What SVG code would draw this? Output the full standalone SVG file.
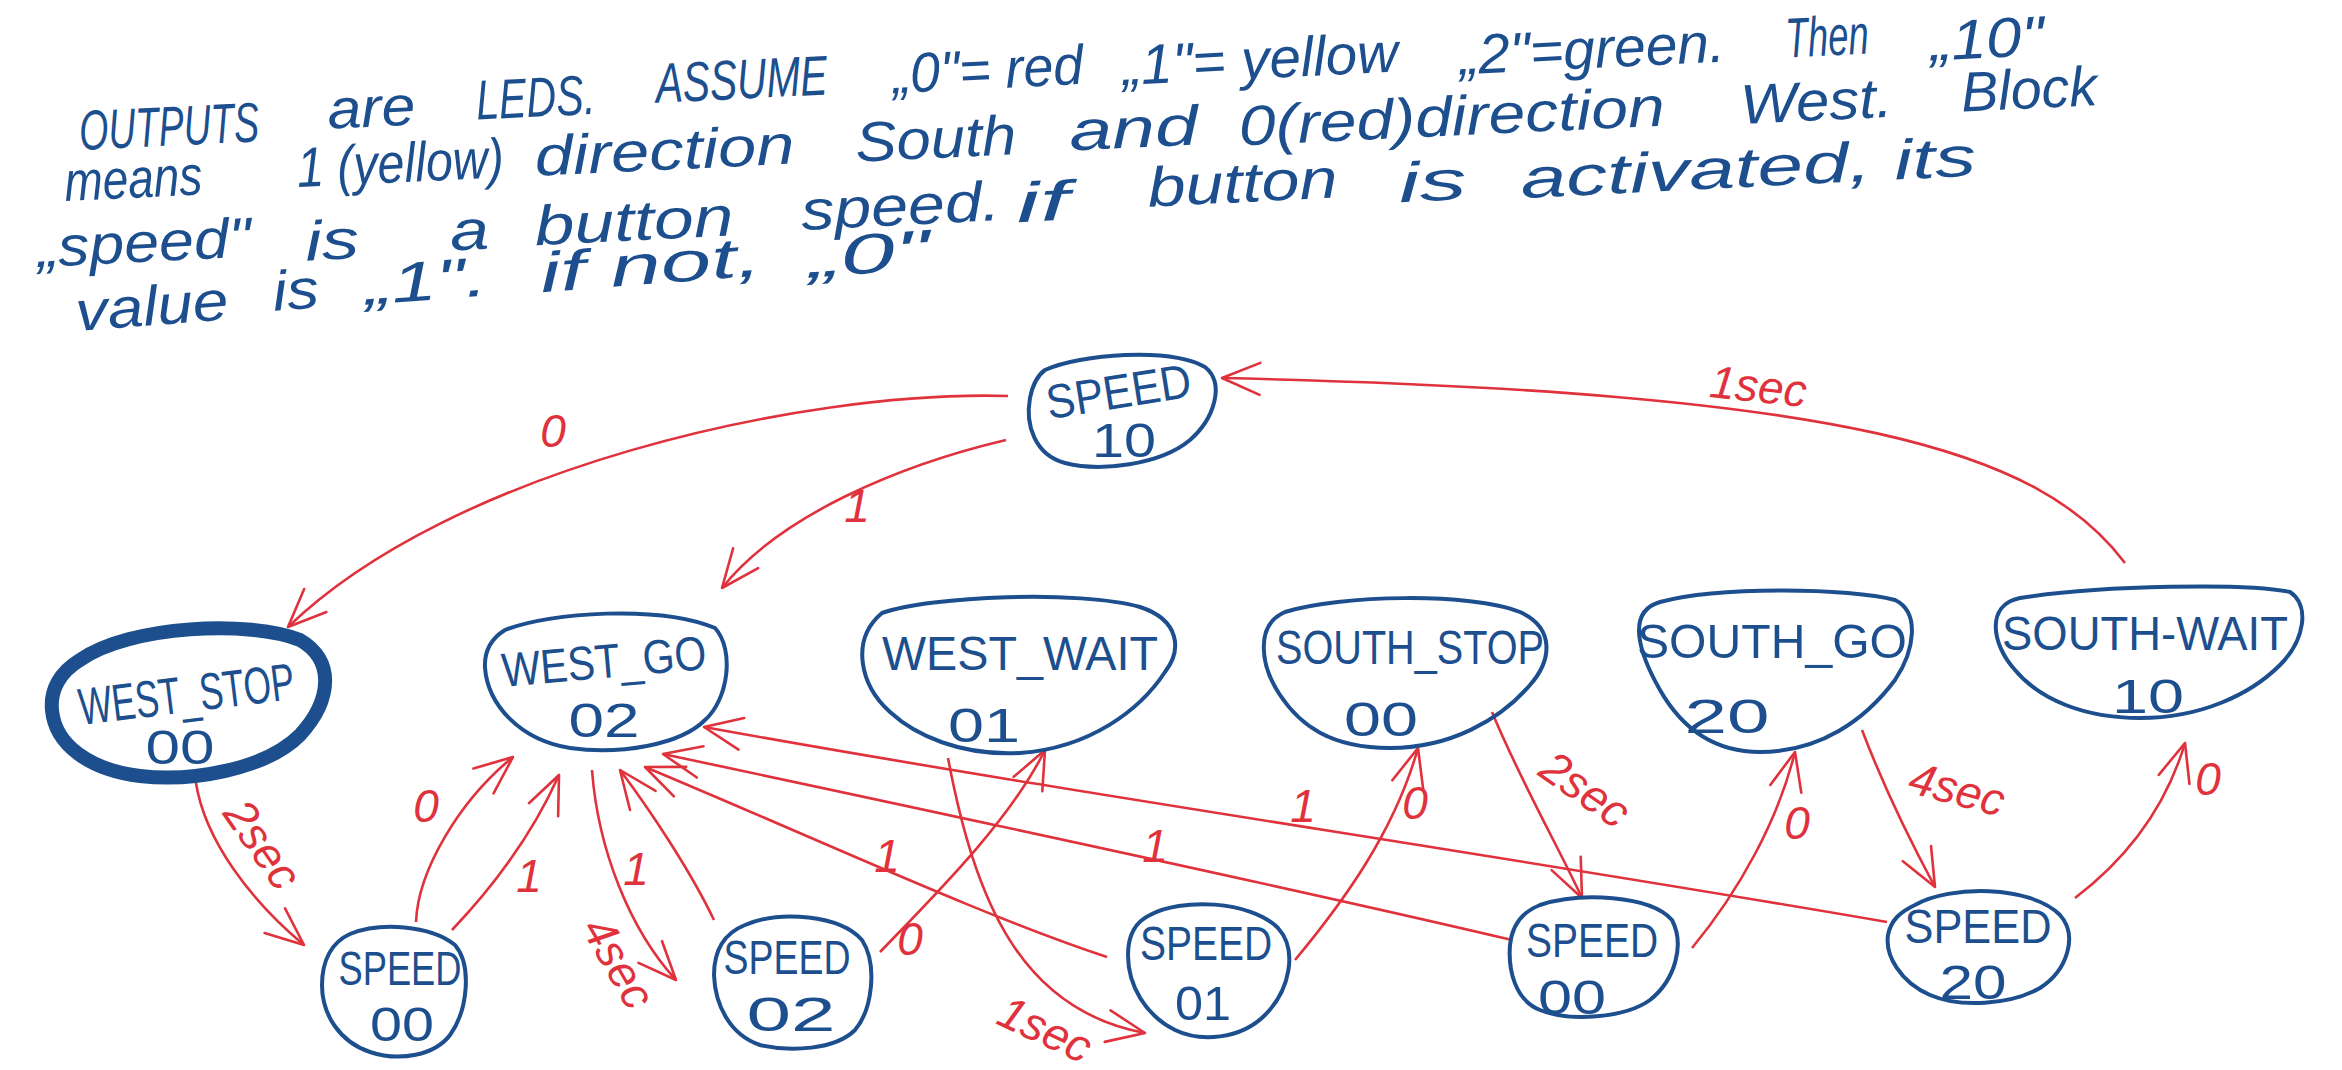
<svg xmlns="http://www.w3.org/2000/svg" width="2342" height="1070" viewBox="0 0 2342 1070">
<style>
.node path{fill:none;stroke:#1d4f8e;stroke-width:4;stroke-linejoin:round}
.node path.thick{stroke-width:14}
.nt{font-family:"Liberation Sans",Arial,sans-serif;fill:#1d4f8e;font-size:48px;text-anchor:middle}
.edges path{fill:none;stroke:#e0323c;stroke-width:2.6;marker-end:url(#arr)}
.el{font-family:"Liberation Sans",Arial,sans-serif;fill:#e0323c;font-size:46px;text-anchor:middle;font-style:italic}
.para{font-family:"Liberation Sans",Arial,sans-serif;fill:#1d4f8e;font-size:56px;font-style:italic}
</style>
<defs>
<marker id="arr" viewBox="0 0 44 40" refX="42" refY="20" markerWidth="44" markerHeight="40" markerUnits="userSpaceOnUse" orient="auto">
<path d="M4,4 L42,20 L4,36" fill="none" stroke="#e0323c" stroke-width="2.6" stroke-linecap="round" stroke-linejoin="round"/>
</marker>
</defs>
<rect width="2342" height="1070" fill="#ffffff"/>

<g id="notes">
<text class="para" transform="rotate(-2.8 80 150)"><tspan x="80" y="150" textLength="180" lengthAdjust="spacingAndGlyphs">OUTPUTS</tspan><tspan x="329" y="141" textLength="88" lengthAdjust="spacingAndGlyphs">are</tspan><tspan x="478" y="139" textLength="119" lengthAdjust="spacingAndGlyphs">LEDS.</tspan><tspan x="658" y="131" textLength="172" lengthAdjust="spacingAndGlyphs">ASSUME</tspan><tspan x="895" y="133" textLength="191" lengthAdjust="spacingAndGlyphs">„0"= red</tspan><tspan x="1125" y="136" textLength="276" lengthAdjust="spacingAndGlyphs">„1"= yellow</tspan><tspan x="1462" y="142" textLength="266" lengthAdjust="spacingAndGlyphs">„2"=green.</tspan><tspan x="1789" y="141" textLength="83" lengthAdjust="spacingAndGlyphs">Then</tspan><tspan x="1933" y="151" textLength="114" lengthAdjust="spacingAndGlyphs">„10"</tspan></text>
<text class="para" transform="rotate(-2.7 65 198)"><tspan x="65" y="201" textLength="138" lengthAdjust="spacingAndGlyphs">means</tspan><tspan x="298" y="198" textLength="207" lengthAdjust="spacingAndGlyphs">1 (yellow)</tspan><tspan x="536" y="198" textLength="260" lengthAdjust="spacingAndGlyphs">direction</tspan><tspan x="857" y="199" textLength="161" lengthAdjust="spacingAndGlyphs">South</tspan><tspan x="1071" y="198" textLength="129" lengthAdjust="spacingAndGlyphs">and</tspan><tspan x="1241" y="201" textLength="426" lengthAdjust="spacingAndGlyphs">0(red)direction</tspan><tspan x="1743" y="203" textLength="152" lengthAdjust="spacingAndGlyphs">West.</tspan><tspan x="1964" y="201" textLength="136" lengthAdjust="spacingAndGlyphs">Block</tspan></text>
<text class="para" transform="rotate(-2.85 38 267)"><tspan x="38" y="267" textLength="214" lengthAdjust="spacingAndGlyphs">„speed"</tspan><tspan x="306" y="274" textLength="54" lengthAdjust="spacingAndGlyphs">is</tspan><tspan x="451" y="271" textLength="39" lengthAdjust="spacingAndGlyphs">a</tspan><tspan x="536" y="270" textLength="199" lengthAdjust="spacingAndGlyphs">button</tspan><tspan x="803" y="268" textLength="199" lengthAdjust="spacingAndGlyphs">speed.</tspan><tspan x="1018" y="271" textLength="53" lengthAdjust="spacingAndGlyphs">if</tspan><tspan x="1150" y="262" textLength="190" lengthAdjust="spacingAndGlyphs">button</tspan><tspan x="1401" y="270" textLength="68" lengthAdjust="spacingAndGlyphs">is</tspan><tspan x="1523" y="272" textLength="456" lengthAdjust="spacingAndGlyphs">activated, its</tspan></text>
<text class="para" transform="rotate(-4.4 77 331)"><tspan x="77" y="331" textLength="153" lengthAdjust="spacingAndGlyphs">value</tspan><tspan x="275" y="326" textLength="46" lengthAdjust="spacingAndGlyphs">is</tspan><tspan x="367" y="327" textLength="123" lengthAdjust="spacingAndGlyphs">„1".</tspan><tspan x="543" y="328" textLength="222" lengthAdjust="spacingAndGlyphs">if not,</tspan><tspan x="811" y="334" textLength="122" lengthAdjust="spacingAndGlyphs">„0"</tspan></text>
</g>

<g id="connectors" class="edges">
<path id="e-speed10-weststop" d="M1008,396 C800,390 450,470 288,627"/>
<path id="e-speed10-westgo" d="M1006,440 C900,465 780,515 722,588"/>
<path id="e-southwait-speed10" d="M2125,563 C2040,450 1850,392 1222,378"/>
<path id="e-weststop-speed00" d="M196,783 C205,840 250,900 304,945"/>
<path id="e-speed00-westgo-0" d="M416,922 C418,870 460,800 513,757"/>
<path id="e-speed00-westgo-1" d="M452,930 C490,890 530,840 559,775"/>
<path id="e-westgo-speed02" d="M592,770 C598,850 630,930 676,980"/>
<path id="e-speed02-westgo" d="M714,920 C690,870 650,810 620,770"/>
<path id="e-speed02-westwait" d="M880,952 C940,890 1010,820 1045,750"/>
<path id="e-westwait-speed01" d="M948,758 C975,900 1020,1010 1145,1033"/>
<path id="e-speed01-westgo" d="M1107,957 C980,915 820,840 645,767"/>
<path id="e-speed00b-westgo" d="M1512,940 C1300,890 950,815 663,754"/>
<path id="e-speed20-westgo" d="M1887,922 C1500,855 1050,790 704,727"/>
<path id="e-speed01-southstop" d="M1295,960 C1345,900 1395,830 1418,748"/>
<path id="e-southstop-speed00b" d="M1492,712 C1520,780 1560,850 1582,898"/>
<path id="e-speed00b-southgo" d="M1692,948 C1740,890 1778,820 1795,752"/>
<path id="e-southgo-speed20" d="M1862,730 C1885,790 1915,850 1935,887"/>
<path id="e-speed20-southwait" d="M2075,898 C2125,860 2165,810 2185,743"/>
</g>

<g id="edge-labels">
<text class="el" x="553" y="447">0</text>
<text class="el" x="857" y="522">1</text>
<text class="el" x="1757" y="402" transform="rotate(6 1757 400)">1sec</text>
<text class="el" x="262" y="860" transform="rotate(55 262 845)">2sec</text>
<text class="el" x="426" y="822">0</text>
<text class="el" x="529" y="892">1</text>
<text class="el" x="636" y="885">1</text>
<text class="el" x="618" y="978" transform="rotate(60 618 963)">4sec</text>
<text class="el" x="910" y="955">0</text>
<text class="el" x="887" y="872">1</text>
<text class="el" x="1045" y="1045" transform="rotate(25 1045 1030)">1sec</text>
<text class="el" x="1155" y="862">1</text>
<text class="el" x="1303" y="822">1</text>
<text class="el" x="1415" y="819">0</text>
<text class="el" x="1585" y="805" transform="rotate(35 1585 790)">2sec</text>
<text class="el" x="1797" y="839">0</text>
<text class="el" x="1957" y="805" transform="rotate(15 1957 790)">4sec</text>
<text class="el" x="2208" y="795">0</text>
</g>

<g id="n-speed10" class="node">
<path d="M1045,370 C1080,354 1170,347 1205,367 C1225,383 1215,418 1190,440 C1160,465 1100,472 1065,463 C1035,455 1025,425 1030,398 C1033,383 1038,375 1045,370 Z"/>
<text class="nt" x="1119" y="408" textLength="146" lengthAdjust="spacingAndGlyphs" transform="rotate(-9 1119 394)">SPEED</text>
<text class="nt" x="1124" y="457" textLength="64" lengthAdjust="spacingAndGlyphs">10</text>
</g>
<g id="n-weststop" class="node">
<path class="thick" d="M80,660 C130,625 250,620 300,640 C335,660 332,700 300,735 C265,770 190,782 140,776 C90,770 55,745 52,710 C50,690 60,672 80,660 Z"/>
<text class="nt" x="187" y="712" textLength="217" lengthAdjust="spacingAndGlyphs" transform="rotate(-7 187 698)" style="font-size:52px">WEST_STOP</text>
<text class="nt" x="180" y="764" textLength="69" lengthAdjust="spacingAndGlyphs">00</text>
</g>
<g id="n-westgo" class="node">
<path d="M505,630 C550,612 660,605 715,628 C735,650 728,700 705,720 C680,745 620,755 570,748 C520,740 488,705 485,668 C484,650 492,638 505,630 Z"/>
<text class="nt" x="604" y="678" textLength="205" lengthAdjust="spacingAndGlyphs" transform="rotate(-5 604 663)">WEST_GO</text>
<text class="nt" x="604" y="737" textLength="71" lengthAdjust="spacingAndGlyphs">02</text>
</g>
<g id="n-westwait" class="node">
<path d="M882,613 C930,596 1080,590 1140,607 C1180,620 1182,650 1165,672 C1140,710 1090,748 1020,753 C960,756 915,735 890,712 C860,685 850,640 882,613 Z"/>
<text class="nt" x="1020" y="670" textLength="276" lengthAdjust="spacingAndGlyphs">WEST_WAIT</text>
<text class="nt" x="984" y="742" textLength="72" lengthAdjust="spacingAndGlyphs">01</text>
</g>
<g id="n-southstop" class="node">
<path d="M1285,612 C1340,595 1470,592 1520,612 C1555,628 1552,660 1530,685 C1500,720 1450,748 1390,748 C1330,748 1300,725 1280,695 C1260,665 1255,625 1285,612 Z"/>
<text class="nt" x="1410" y="664" textLength="268" lengthAdjust="spacingAndGlyphs">SOUTH_STOP</text>
<text class="nt" x="1381" y="736" textLength="74" lengthAdjust="spacingAndGlyphs">00</text>
</g>
<g id="n-southgo" class="node">
<path d="M1660,602 C1720,586 1850,588 1895,600 C1920,612 1915,650 1895,680 C1865,720 1820,752 1760,752 C1710,752 1680,725 1660,690 C1640,655 1625,612 1660,602 Z"/>
<text class="nt" x="1772" y="658" textLength="270" lengthAdjust="spacingAndGlyphs">SOUTH_GO</text>
<text class="nt" x="1727" y="733" textLength="85" lengthAdjust="spacingAndGlyphs">20</text>
</g>
<g id="n-southwait" class="node">
<path d="M2020,598 C2100,585 2250,583 2290,592 C2310,605 2305,640 2280,665 C2250,695 2200,718 2140,718 C2085,718 2040,700 2015,670 C1992,645 1985,605 2020,598 Z"/>
<text class="nt" x="2145" y="650" textLength="286" lengthAdjust="spacingAndGlyphs">SOUTH-WAIT</text>
<text class="nt" x="2148" y="713" textLength="72" lengthAdjust="spacingAndGlyphs">10</text>
</g>
<g id="n-speed00a" class="node">
<path d="M350,934 C380,922 430,925 455,945 C472,965 468,1010 450,1035 C435,1055 400,1062 370,1052 C340,1042 322,1015 322,985 C322,960 332,942 350,934 Z"/>
<text class="nt" x="400" y="985" textLength="123" lengthAdjust="spacingAndGlyphs">SPEED</text>
<text class="nt" x="402" y="1041" textLength="64" lengthAdjust="spacingAndGlyphs">00</text>
</g>
<g id="n-speed02" class="node">
<path d="M745,925 C780,910 840,915 862,940 C878,965 872,1010 855,1030 C835,1050 790,1052 760,1045 C730,1035 715,1005 714,975 C714,950 725,933 745,925 Z"/>
<text class="nt" x="787" y="974" textLength="127" lengthAdjust="spacingAndGlyphs">SPEED</text>
<text class="nt" x="791" y="1031" textLength="89" lengthAdjust="spacingAndGlyphs">02</text>
</g>
<g id="n-speed01" class="node">
<path d="M1150,915 C1180,898 1250,900 1278,928 C1298,950 1290,990 1265,1015 C1240,1040 1200,1042 1175,1030 C1145,1015 1128,985 1128,955 C1128,935 1135,922 1150,915 Z"/>
<text class="nt" x="1206" y="960" textLength="132" lengthAdjust="spacingAndGlyphs">SPEED</text>
<text class="nt" x="1203" y="1020" textLength="56" lengthAdjust="spacingAndGlyphs">01</text>
</g>
<g id="n-speed00b" class="node">
<path d="M1540,905 C1580,892 1650,895 1672,920 C1685,945 1675,980 1650,1000 C1625,1018 1570,1022 1540,1010 C1515,1000 1508,970 1510,945 C1512,925 1522,912 1540,905 Z"/>
<text class="nt" x="1592" y="957" textLength="132" lengthAdjust="spacingAndGlyphs">SPEED</text>
<text class="nt" x="1572" y="1014" textLength="68" lengthAdjust="spacingAndGlyphs">00</text>
</g>
<g id="n-speed20" class="node">
<path d="M1915,905 C1950,885 2030,885 2060,915 C2078,935 2068,970 2040,988 C2010,1005 1960,1008 1930,995 C1900,982 1885,955 1888,935 C1891,920 1900,912 1915,905 Z"/>
<text class="nt" x="1978" y="943" textLength="147" lengthAdjust="spacingAndGlyphs">SPEED</text>
<text class="nt" x="1973" y="999" textLength="67" lengthAdjust="spacingAndGlyphs">20</text>
</g>
</svg>
